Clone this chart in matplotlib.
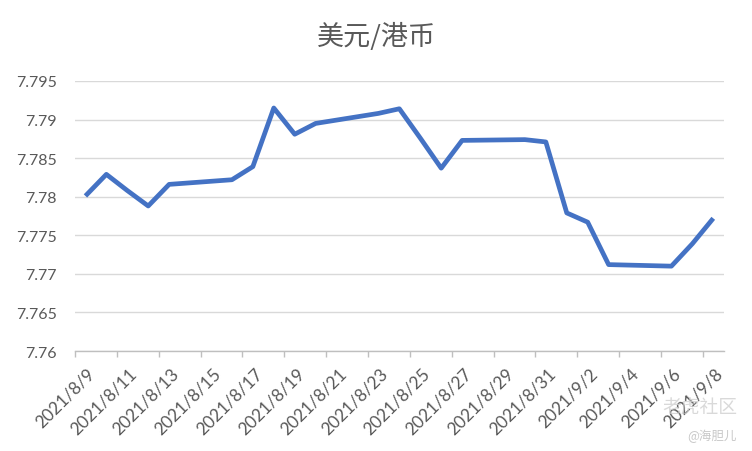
import datetime as dt
import matplotlib
matplotlib.use("Agg")
import matplotlib.pyplot as plt
import matplotlib.transforms as mtransforms

plt.rcParams['font.family'] = ['Lato', 'Noto Sans CJK SC', 'DejaVu Sans']

# trading days and USD/HKD rate
dates = ["2021-08-09", "2021-08-10", "2021-08-11", "2021-08-12", "2021-08-13",
         "2021-08-16", "2021-08-17", "2021-08-18", "2021-08-19", "2021-08-20",
         "2021-08-23", "2021-08-24", "2021-08-25", "2021-08-26", "2021-08-27",
         "2021-08-30", "2021-08-31", "2021-09-01", "2021-09-02", "2021-09-03",
         "2021-09-06", "2021-09-07", "2021-09-08"]
rates = [7.7801, 7.7829, 7.7808, 7.7788, 7.7816,
         7.7822, 7.7839, 7.7915, 7.7881, 7.7895,
         7.7908, 7.7914, 7.7876, 7.7837, 7.7873,
         7.7874, 7.7871, 7.7779, 7.7767, 7.7712,
         7.7710, 7.7739, 7.7772]

y_ticks = [7.76, 7.765, 7.77, 7.775, 7.78, 7.785, 7.79, 7.795]
y_labels = ["7.76", "7.765", "7.77", "7.775", "7.78", "7.785", "7.79", "7.795"]

x = [dt.datetime.strptime(d, "%Y-%m-%d") for d in dates]
first, last = x[0], x[-1]
one_day = dt.timedelta(days=1)
half_day = dt.timedelta(hours=12)

label_days = []
d = first
while d <= last:
    label_days.append(d)
    d += 2 * one_day
tick_marks = [d - half_day for d in label_days]

grey_text = "#595959"

fig = plt.figure(figsize=(7.52, 4.52), dpi=100)
ax = fig.add_axes([0.0997, 0.2212, 0.8627, 0.5974])

ax.plot(x, rates, color="#4472C4", linewidth=3.4, solid_joinstyle="round",
        solid_capstyle="butt", zorder=3)

ax.set_xlim(first - half_day, last + half_day)
ax.set_ylim(7.76, 7.795)

ax.set_yticks(y_ticks)
ax.set_yticklabels(y_labels)
ax.yaxis.grid(True, color="#D9D9D9", linewidth=1.0)
ax.set_axisbelow(True)
ax.tick_params(axis="y", length=0, pad=13, labelsize=11.5, labelcolor=grey_text)

ax.set_xticks(label_days)
ax.set_xticklabels([f"{d.year}/{d.month}/{d.day}" for d in label_days])
ax.set_xticks(tick_marks, minor=True)
ax.tick_params(axis="x", which="major", length=0, pad=14, labelsize=12.5,
               labelcolor=grey_text)
ax.tick_params(axis="x", which="minor", length=4.5, width=1, color="#BFBFBF")
shift = mtransforms.ScaledTranslation(7 / 100, 0, fig.dpi_scale_trans)
for lab in ax.get_xticklabels():
    lab.set_rotation(45)
    lab.set_ha("right")
    lab.set_va("center")
    lab.set_rotation_mode("anchor")
    lab.set_transform(lab.get_transform() + shift)

for side in ["top", "right", "left"]:
    ax.spines[side].set_visible(False)
ax.spines["bottom"].set_color("#BFBFBF")
ax.spines["bottom"].set_linewidth(1.0)

fig.text(0.5, 0.919, "美元/港币", ha="center", va="center", fontsize=19.5,
         color=grey_text, family=["Noto Sans CJK SC", "DejaVu Sans"])

# watermark
fig.text(0.98, 0.097, "老虎社区", ha="right", va="center", fontsize=13.5,
         color="#D0D0D0", alpha=0.8, family=["Noto Sans CJK SC", "DejaVu Sans"])
fig.text(0.98, 0.035, "@海胆儿", ha="right", va="center", fontsize=9,
         color="#C8C8C8", family=["Noto Sans CJK SC", "DejaVu Sans"])

fig.savefig("out.png", dpi=100)
